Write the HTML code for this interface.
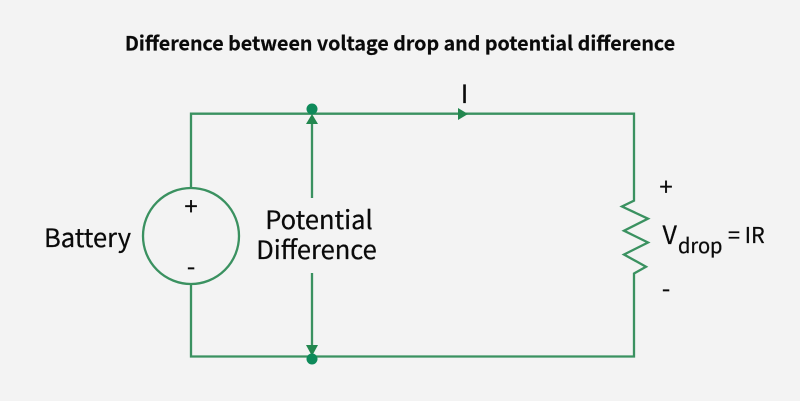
<!DOCTYPE html>
<html><head><meta charset="utf-8"><style>
html,body{margin:0;padding:0;background:#f3f3f3}
svg{display:block}
text{font-family:"Noto Sans CJK SC","Liberation Sans",sans-serif;fill:#0a0a0a}
.m{stroke:#0a0a0a;stroke-width:.25}
</style></head><body>
<svg width="800" height="401" viewBox="0 0 800 401" xmlns="http://www.w3.org/2000/svg">
<rect width="800" height="401" fill="#f3f3f3"/>
<text x="400" y="50.500" text-anchor="middle" font-size="19.650" font-weight="700" stroke="#0a0a0a" stroke-width=".2">Difference between voltage drop and potential difference</text>
<g fill="none" stroke="#3a9160" stroke-width="2.300">
<path d="M191 188V113.7H634V200.7L622 206.5L648 218.7L624 230.7L648 242.5L624 254.5L646 266.7L634 273.5V356.5H191V284"/>
<circle cx="191" cy="236" r="48"/>
<path d="M312 198V122M312 273V348"/>
</g>
<g fill="#23874f">
<path d="M458 108L468 114L458 120Z"/>
<path d="M312 114L318 124H306Z"/>
<path d="M312 356L318 345H306Z"/>
</g>
<circle cx="312" cy="109" r="5.500" fill="#0e8a5a"/>
<circle cx="312" cy="359" r="5.500" fill="#0e8a5a"/>
<g class="m">
<text x="87.500" y="247" text-anchor="middle" font-size="25.500">Battery</text>
<text x="191" y="215" text-anchor="middle" font-size="24">+</text>
<text x="191" y="275" text-anchor="middle" font-size="24">-</text>
<text x="319" y="229" text-anchor="middle" font-size="25.500">Potential</text>
<text x="316.500" y="259" text-anchor="middle" font-size="25.500">Difference</text>
<text x="464.500" y="103" text-anchor="middle" font-size="25">I</text>
<text x="666" y="195.500" text-anchor="middle" font-size="24">+</text>
<text x="666" y="297" text-anchor="middle" font-size="24">-</text>
<text x="662.500" y="244" font-size="25">V</text>
<text x="678" y="253" font-size="20">drop</text>
<text x="728" y="243" font-size="21.500">= IR</text>
</g>
</svg>
</body></html>
